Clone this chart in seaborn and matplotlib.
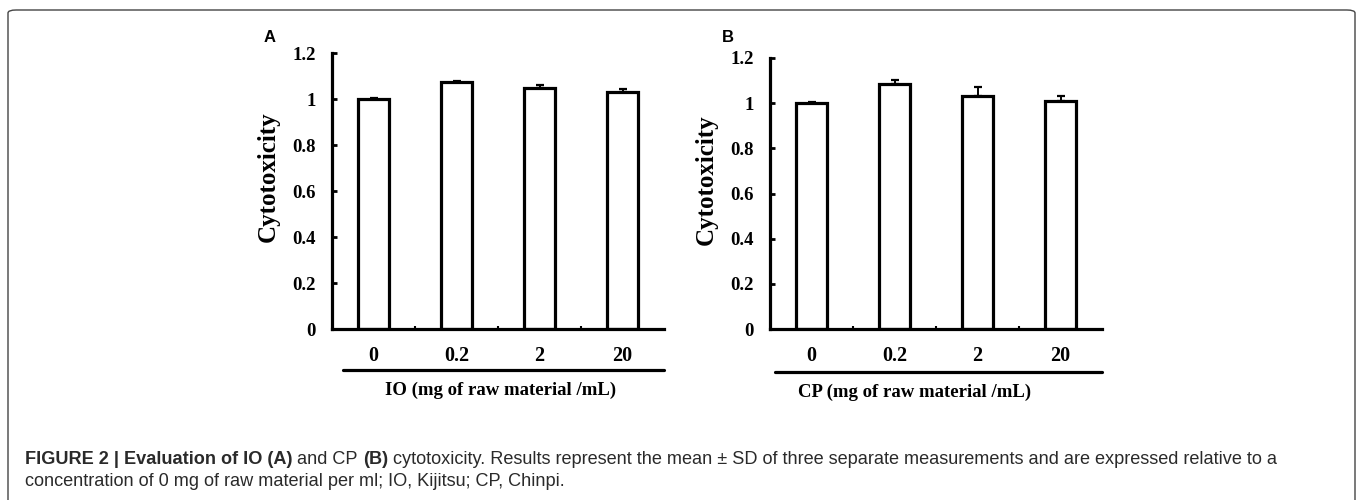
import matplotlib
matplotlib.use("Agg")
import matplotlib.pyplot as plt
import seaborn as sns
import numpy as np
import pandas as pd
from matplotlib.lines import Line2D
from matplotlib.patches import FancyBboxPatch
from matplotlib.ticker import FixedLocator

# ---- data ----
concentrations = ["0", "0.2", "2", "20"]
io_mean = [1.00, 1.074, 1.05, 1.03]
io_sd = [0.006, 0.006, 0.010, 0.012]
cp_mean = [1.00, 1.084, 1.033, 1.008]
cp_sd = [0.006, 0.020, 0.037, 0.024]
y_ticks = [0, 0.2, 0.4, 0.6, 0.8, 1.0, 1.2]
y_tick_labels = ["0", "0.2", "0.4", "0.6", "0.8", "1", "1.2"]
panel_letters = ["A", "B"]
x_titles = ["IO (mg of raw material /mL)", "CP (mg of raw material /mL)"]
y_title = "Cytotoxicity"

sns.set_theme(style="white")
plt.rcParams["font.family"] = ["Liberation Serif", "DejaVu Serif"]

W, H = 1358, 500
fig = plt.figure(figsize=(W / 100, H / 100), dpi=100)

def fx(px):
    return px / W

def fy(py):
    return 1 - py / H

SERIF = "Liberation Serif"
SANS = "Liberation Sans"

panels = [
    dict(left=332, top=53, bottom=329, mean=io_mean, sd=io_sd,
         ylab_x=268, ylab_y=177, ul=(343, 664), ul_y=370, xt_x=501, xt_y=390,
         letter_x=270, letter_y=37),
    dict(left=770, top=58, bottom=329, mean=cp_mean, sd=cp_sd,
         ylab_x=706, ylab_y=180, ul=(775, 1102), ul_y=372, xt_x=915, xt_y=392,
         letter_x=728, letter_y=37),
]
axw = 332

for i, p in enumerate(panels):
    ax = fig.add_axes([fx(p["left"]), fy(p["bottom"]), fx(axw), (p["bottom"] - p["top"]) / H])
    df = pd.DataFrame({"conc": concentrations, "val": p["mean"]})
    sns.barplot(data=df, x="conc", y="val", ax=ax, width=0.38, color="white",
                edgecolor="black", linewidth=2.3, errorbar=None, saturation=1,
                order=concentrations)
    for patch in ax.patches:
        patch.set_facecolor("white")
        patch.set_zorder(2)
    ax.errorbar(np.arange(len(concentrations)), p["mean"],
                yerr=[np.zeros(len(p["sd"])), p["sd"]], fmt="none",
                ecolor="black", elinewidth=1.4, capsize=3, capthick=1.6, zorder=3)
    ax.set_xlim(-0.5, 3.5)
    ax.set_ylim(0, 1.2)
    ax.set_yticks(y_ticks)
    ax.set_yticklabels(y_tick_labels)
    ax.set_xlabel("")
    ax.set_ylabel("")
    for s in ["top", "right"]:
        ax.spines[s].set_visible(False)
    for s in ["left", "bottom"]:
        ax.spines[s].set_visible(True)
        ax.spines[s].set_linewidth(2.3)
        ax.spines[s].set_color("black")
        ax.spines[s].set_capstyle("projecting")
    ax.tick_params(axis="y", direction="in", length=3.5, width=2, pad=11.5,
                   labelsize=13.5, colors="black", left=True)
    ax.tick_params(axis="x", which="major", length=0, pad=12, labelsize=14.5,
                   colors="black")
    ax.xaxis.set_minor_locator(FixedLocator([0.5, 1.5, 2.5]))
    ax.tick_params(axis="x", which="minor", direction="in", length=2.5, width=1.5,
                   bottom=True, colors="black")
    for lab in ax.get_yticklabels() + ax.get_xticklabels():
        lab.set_fontfamily(SERIF)
        lab.set_fontweight("bold")
    ax.grid(False)
    ax.set_facecolor("none")

    fig.text(fx(p["ylab_x"]), fy(p["ylab_y"]), y_title, rotation=90, ha="center",
             va="center", fontsize=18, family=SERIF, weight="bold", color="black")
    fig.add_artist(Line2D([fx(p["ul"][0]), fx(p["ul"][1])], [fy(p["ul_y"])] * 2,
                          color="black", lw=2.3, transform=fig.transFigure))
    fig.text(fx(p["xt_x"]), fy(p["xt_y"]), x_titles[i], ha="center", va="center",
             fontsize=13.5, family=SERIF, weight="bold", color="black")
    fig.text(fx(p["letter_x"]), fy(p["letter_y"]), panel_letters[i], ha="center",
             va="center", fontsize=12, family=SANS, weight="bold", color="black")

# ---- frame ----
frame = FancyBboxPatch((fx(8), fy(503)), fx(1347), (503 - 10) / H,
                       boxstyle="round,pad=0,rounding_size=0.006",
                       transform=fig.transFigure, fill=False, edgecolor="#444444",
                       lw=1.0, clip_on=False)
fig.add_artist(frame)

# ---- caption ----
line1 = [
    ("FIGURE 2 | Evaluation of IO (A)", "bold"),
    (" and CP ", "normal"),
    ("(B)", "bold"),
    (" cytotoxicity. Results represent the mean \u00b1 SD of three separate measurements "
     "and are expressed relative to a", "normal"),
]
line2 = [("concentration of 0 mg of raw material per ml; IO, Kijitsu; CP, Chinpi.", "normal")]

fig.canvas.draw()
renderer = fig.canvas.get_renderer()

def draw_line(pieces, x0, ypx, size):
    x = x0
    arts = []
    for txt, wt in pieces:
        t = fig.text(fx(x), fy(ypx), txt, ha="left", va="center", fontsize=size,
                     family=SANS, weight=wt, color="#2a2a2a")
        bb = t.get_window_extent(renderer=renderer)
        x += bb.width
        arts.append(t)
    return x, arts

base = 11
end, arts = draw_line(line1, 25, 460, base)
width = end - 25
for a in arts:
    a.remove()
size = base * 1253 / width
draw_line(line1, 25, 460, size)
draw_line(line2, 25, 482, size)

fig.savefig("out.png", dpi=100, facecolor="white")
